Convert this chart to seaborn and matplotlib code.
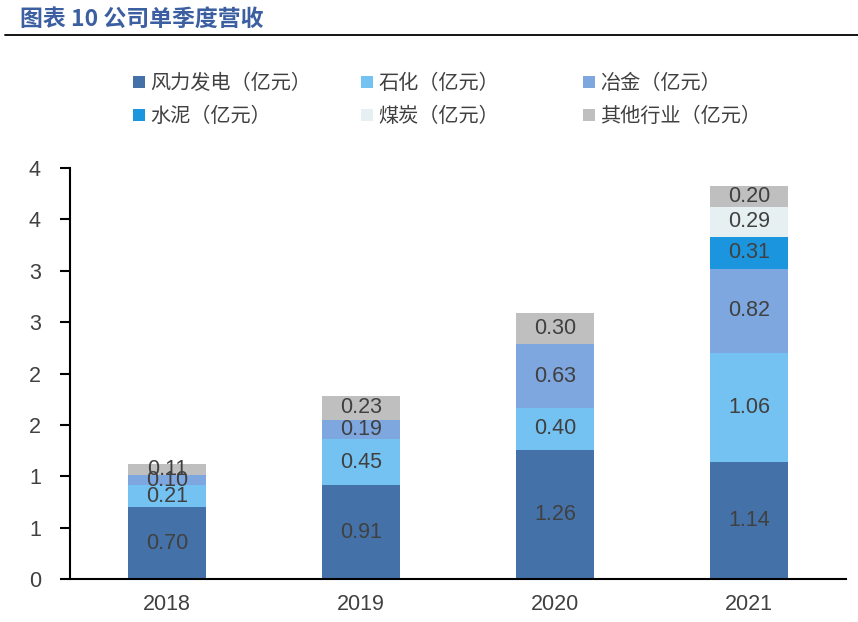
import matplotlib
matplotlib.use("Agg")
import matplotlib.pyplot as plt
import seaborn as sns
import pandas as pd
from matplotlib.lines import Line2D

# 数据
years = ["2018", "2019", "2020", "2021"]
wind = [0.70, 0.91, 1.26, 1.14]
petro = [0.21, 0.45, 0.40, 1.06]
metal = [0.10, 0.19, 0.63, 0.82]
cement = [0.0, 0.0, 0.0, 0.31]
coal = [0.0, 0.0, 0.0, 0.29]
other = [0.11, 0.23, 0.30, 0.20]

series_names = ["风力发电（亿元）", "石化（亿元）", "冶金（亿元）",
                "水泥（亿元）", "煤炭（亿元）", "其他行业（亿元）"]
series_vals = [wind, petro, metal, cement, coal, other]
colors = ["#4472A8", "#74C2F2", "#7EA6DF", "#1B96DE", "#E6F0F2", "#BFBFBF"]
yticks = [0, 0.5, 1, 1.5, 2, 2.5, 3, 3.5, 4]

df = pd.DataFrame({"year": years})
for name, vals in zip(series_names, series_vals):
    df[name] = vals

sns.set_theme(style="white")
plt.rcParams["font.family"] = ["Liberation Sans", "Noto Sans CJK SC", "DejaVu Sans"]

fig = plt.figure(figsize=(8.58, 6.22), dpi=100)
ax = fig.add_axes([70 / 858, 1 - 579 / 622, 776 / 858, 411 / 622])

text_c = "#404040"
bottom = [0.0] * len(years)
for name, c in zip(series_names, colors):
    sns.barplot(x="year", y=name, data=df, bottom=bottom, color=c,
                saturation=1, width=0.4, ax=ax, label=name, linewidth=0)
    bottom = [b + v for b, v in zip(bottom, df[name])]
if ax.get_legend() is not None:
    ax.get_legend().remove()

for cont, vals in zip(ax.containers, series_vals):
    labels = [f"{v:.2f}" if v > 0 else "" for v in vals]
    ax.bar_label(cont, labels=labels, label_type="center", fontsize=15.5,
                 color=text_c, family="Liberation Sans")

ax.set_ylim(0, 4)
ax.set_xlim(-0.5, 3.5)
ax.set_yticks(yticks)
ax.set_yticklabels([str(int(v + 0.5)) for v in yticks])
ax.set_xlabel("")
ax.set_ylabel("")
ax.tick_params(axis="y", direction="out", length=7, width=1.5, color="black",
               labelsize=15.5, labelcolor=text_c, left=True, pad=14)
ax.tick_params(axis="x", length=0, labelsize=15.5, labelcolor=text_c, pad=11)
for s in ["top", "right"]:
    ax.spines[s].set_visible(False)
for s in ["left", "bottom"]:
    ax.spines[s].set_color("black")
    ax.spines[s].set_linewidth(1.5)
ax.grid(False)

# 图例：三列分别放置
handles = [cont.patches[0] for cont in ax.containers]
col_x = [133, 361, 583]
for i, x in enumerate(col_x):
    hs = [handles[i], handles[i + 3]]
    ls = [series_names[i], series_names[i + 3]]
    leg = fig.legend(hs, ls, loc="upper left",
                     bbox_to_anchor=(x / 858, 1 - 73 / 622),
                     frameon=False, handlelength=0.6, handleheight=0.6,
                     handletextpad=0.25, labelspacing=0.6,
                     prop={"family": "Noto Sans CJK SC", "size": 14.5},
                     borderaxespad=0, borderpad=0)
    for t in leg.get_texts():
        t.set_color(text_c)

# 标题
fig.text(20 / 858, 1 - 19 / 622, "图表 10 公司单季度营收", fontsize=16.5,
         fontweight="bold", color="#3B5FA0", va="center", ha="left",
         family=["Noto Sans CJK SC", "DejaVu Sans"])
fig.add_artist(Line2D([5 / 858, 1.0], [1 - 35 / 622, 1 - 35 / 622],
                      color="black", lw=1.3, transform=fig.transFigure))

fig.savefig("out.png", dpi=100)
